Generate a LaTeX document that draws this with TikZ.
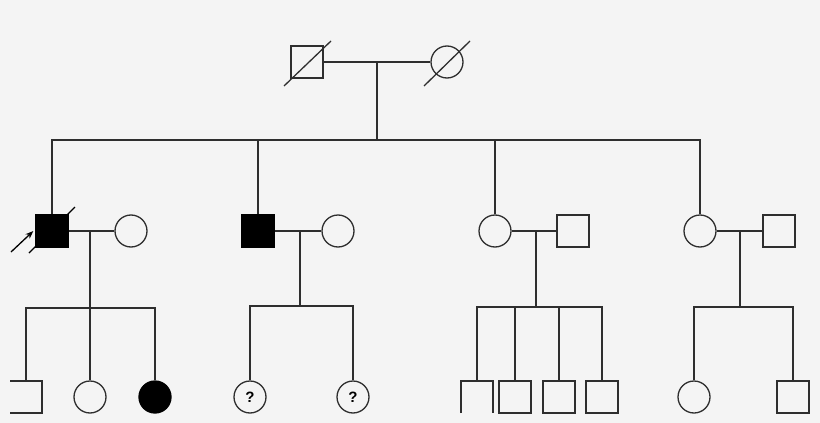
\documentclass[tikz,border=0pt]{standalone}
\usepackage{tikz}
\usepackage{fontspec}
\setsansfont{Liberation Sans}
\usetikzlibrary{arrows.meta}
\definecolor{pedline}{HTML}{2E2E2E}
\definecolor{pedbg}{HTML}{F4F4F4}

\begin{document}
\begin{tikzpicture}[x=1pt,y=-1pt,
    rel/.style={draw=pedline,line width=1.3pt},
    male/.style={rel,rectangle,minimum size=32pt,inner sep=0pt},
    female/.style={rel,circle,minimum size=32pt,inner sep=0pt},
    cutmale/.style={male,draw=none,outer sep=0pt},
    affected/.style={fill=black,draw=black},
    unknown/.style={font=\sffamily\bfseries\fontsize{15}{15}\selectfont}]
  \fill[pedbg] (0,0) rectangle (820,423);
  \useasboundingbox (0,0) rectangle (820,423);

  % grandparents
  \node[male] (gf) at (307,62) {};
  \node[female] (gm) at (447,62) {};
  \coordinate (m0) at (377,62);
  \coordinate (s0) at (377,140);

  % second generation
  \node[male,affected] (a1) at (52,231) {};
  \node[female] (a1w) at (131,231) {};
  \node[male,affected] (a2) at (258,231) {};
  \node[female] (a2w) at (338,231) {};
  \node[female] (a3) at (495,231) {};
  \node[male] (a3h) at (573,231) {};
  \node[female] (a4) at (700,231) {};
  \node[male] (a4h) at (779,231) {};

  \coordinate (m1) at (90,231);
  \coordinate (m2) at (300,231);
  \coordinate (m3) at (536,231);
  \coordinate (m4) at (740,231);
  \coordinate (k1) at (90,308);
  \coordinate (k2) at (300,306);
  \coordinate (k3) at (536,307);
  \coordinate (k4) at (740,307);

  % third generation
  \node[cutmale] (b1) at (26,397) {};
  \node[female] (b2) at (90,397) {};
  \node[female,affected] (b3) at (155,397) {};
  \node[female,unknown] (c1) at (250,397) {?};
  \node[female,unknown] (c2) at (353,397) {?};
  \node[cutmale] (d1) at (477,397) {};
  \node[male] (d2) at (515,397) {};
  \node[male] (d3) at (559,397) {};
  \node[male] (d4) at (602,397) {};
  \node[female] (e1) at (694,397) {};
  \node[male] (e2) at (793,397) {};

  % open squares at the cut edges
  \draw[rel] (b1.north west) -- (b1.north east) -- (b1.south east) -- (b1.south west);
  \draw[rel] (d1.south west) -- (d1.north west) -- (d1.north east) -- (d1.south east);

  % couples and sibships
  \draw[rel] (gf) -- (gm);
  \draw[rel] (m0) -- (s0);
  \draw[rel] (a1.north) |- (s0) -| (a4.north);
  \draw[rel] (a2.north) -- (a2.north |- s0);
  \draw[rel] (a3.north) -- (a3.north |- s0);

  \draw[rel] (a1) -- (a1w);
  \draw[rel] (a2) -- (a2w);
  \draw[rel] (a3) -- (a3h);
  \draw[rel] (a4) -- (a4h);
  \draw[rel] (m1) -- (k1);
  \draw[rel] (m2) -- (k2);
  \draw[rel] (m3) -- (k3);
  \draw[rel] (m4) -- (k4);

  \draw[rel] (b1.north) |- (k1) -| (b3.north);
  \draw[rel] (k1) -- (b2);
  \draw[rel] (c1.north) |- (k2) -| (c2.north);
  \draw[rel] (d1.north) |- (k3) -| (d4.north);
  \draw[rel] (d2.north) -- (d2.north |- k3);
  \draw[rel] (d3.north) -- (d3.north |- k3);
  \draw[rel] (e1.north) |- (k4) -| (e2.north);

  % deceased
  \draw[rel] ([shift={(-23,24)}]gf.center) -- ([shift={(24,-21)}]gf.center);
  \draw[rel] ([shift={(-23,24)}]gm.center) -- ([shift={(23,-21)}]gm.center);
  \draw[rel,draw=black] ([shift={(-23,22)}]a1.center) -- ([shift={(23,-24)}]a1.center);

  % proband
  \coordinate (pb) at (11,252);
  \draw[rel,draw=black,-{Stealth[length=8pt,width=6pt]}] (pb) -- ([xshift=-2pt]a1.west);
\end{tikzpicture}
\end{document}
